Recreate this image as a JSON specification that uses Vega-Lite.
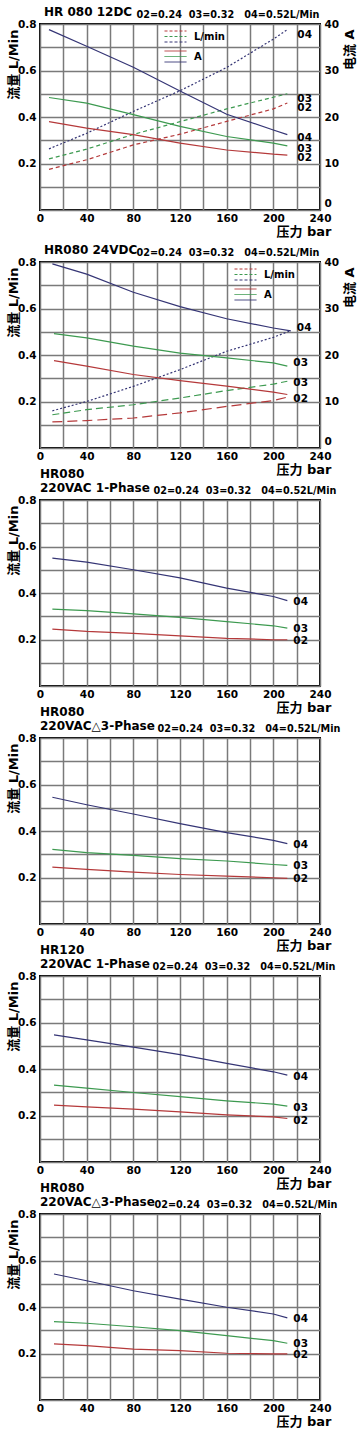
{
  "$schema": "https://vega.github.io/schema/vega-lite/v6.json",
  "background": "white",
  "padding": {"left": 5, "top": 5, "right": 0, "bottom": 5},
  "data": {"values": [
    {"panel":1,"kind":"L/min","series":"02","bar":7.7,"value":0.175},{"panel":1,"kind":"L/min","series":"02","bar":40,"value":0.216},{"panel":1,"kind":"L/min","series":"02","bar":80,"value":0.28},{"panel":1,"kind":"L/min","series":"02","bar":120,"value":0.326},{"panel":1,"kind":"L/min","series":"02","bar":160,"value":0.381},{"panel":1,"kind":"L/min","series":"02","bar":200,"value":0.435},{"panel":1,"kind":"L/min","series":"02","bar":212,"value":0.46},
    {"panel":1,"kind":"L/min","series":"03","bar":7.7,"value":0.22},{"panel":1,"kind":"L/min","series":"03","bar":40,"value":0.262},{"panel":1,"kind":"L/min","series":"03","bar":80,"value":0.325},{"panel":1,"kind":"L/min","series":"03","bar":120,"value":0.38},{"panel":1,"kind":"L/min","series":"03","bar":160,"value":0.435},{"panel":1,"kind":"L/min","series":"03","bar":200,"value":0.485},{"panel":1,"kind":"L/min","series":"03","bar":212,"value":0.5},
    {"panel":1,"kind":"L/min","series":"04","bar":7.7,"value":0.263},{"panel":1,"kind":"L/min","series":"04","bar":40,"value":0.33},{"panel":1,"kind":"L/min","series":"04","bar":80,"value":0.424},{"panel":1,"kind":"L/min","series":"04","bar":120,"value":0.513},{"panel":1,"kind":"L/min","series":"04","bar":160,"value":0.613},{"panel":1,"kind":"L/min","series":"04","bar":200,"value":0.735},{"panel":1,"kind":"L/min","series":"04","bar":212,"value":0.776},
    {"panel":1,"kind":"A","series":"02","bar":7.7,"value":19.0},{"panel":1,"kind":"A","series":"02","bar":40,"value":17.6},{"panel":1,"kind":"A","series":"02","bar":80,"value":16.2},{"panel":1,"kind":"A","series":"02","bar":120,"value":14.4},{"panel":1,"kind":"A","series":"02","bar":160,"value":12.9},{"panel":1,"kind":"A","series":"02","bar":200,"value":12.0},{"panel":1,"kind":"A","series":"02","bar":212,"value":11.8},
    {"panel":1,"kind":"A","series":"03","bar":7.7,"value":24.2},{"panel":1,"kind":"A","series":"03","bar":40,"value":23.0},{"panel":1,"kind":"A","series":"03","bar":80,"value":20.5},{"panel":1,"kind":"A","series":"03","bar":120,"value":18.0},{"panel":1,"kind":"A","series":"03","bar":160,"value":15.8},{"panel":1,"kind":"A","series":"03","bar":200,"value":14.4},{"panel":1,"kind":"A","series":"03","bar":212,"value":13.8},
    {"panel":1,"kind":"A","series":"04","bar":7.7,"value":38.8},{"panel":1,"kind":"A","series":"04","bar":40,"value":35.2},{"panel":1,"kind":"A","series":"04","bar":80,"value":30.7},{"panel":1,"kind":"A","series":"04","bar":120,"value":25.6},{"panel":1,"kind":"A","series":"04","bar":160,"value":20.6},{"panel":1,"kind":"A","series":"04","bar":200,"value":17.2},{"panel":1,"kind":"A","series":"04","bar":212,"value":16.2},
    {"panel":2,"kind":"L/min","series":"02","bar":10.6,"value":0.112},{"panel":2,"kind":"L/min","series":"02","bar":40,"value":0.118},{"panel":2,"kind":"L/min","series":"02","bar":80,"value":0.129},{"panel":2,"kind":"L/min","series":"02","bar":120,"value":0.151},{"panel":2,"kind":"L/min","series":"02","bar":160,"value":0.179},{"panel":2,"kind":"L/min","series":"02","bar":200,"value":0.204},{"panel":2,"kind":"L/min","series":"02","bar":212,"value":0.219},
    {"panel":2,"kind":"L/min","series":"03","bar":10.6,"value":0.143},{"panel":2,"kind":"L/min","series":"03","bar":40,"value":0.165},{"panel":2,"kind":"L/min","series":"03","bar":80,"value":0.186},{"panel":2,"kind":"L/min","series":"03","bar":120,"value":0.215},{"panel":2,"kind":"L/min","series":"03","bar":160,"value":0.247},{"panel":2,"kind":"L/min","series":"03","bar":200,"value":0.275},{"panel":2,"kind":"L/min","series":"03","bar":212,"value":0.287},
    {"panel":2,"kind":"L/min","series":"04","bar":10.6,"value":0.16},{"panel":2,"kind":"L/min","series":"04","bar":40,"value":0.2},{"panel":2,"kind":"L/min","series":"04","bar":80,"value":0.265},{"panel":2,"kind":"L/min","series":"04","bar":120,"value":0.337},{"panel":2,"kind":"L/min","series":"04","bar":160,"value":0.416},{"panel":2,"kind":"L/min","series":"04","bar":200,"value":0.476},{"panel":2,"kind":"L/min","series":"04","bar":215,"value":0.505},
    {"panel":2,"kind":"A","series":"02","bar":12,"value":18.8},{"panel":2,"kind":"A","series":"02","bar":40,"value":17.6},{"panel":2,"kind":"A","series":"02","bar":80,"value":15.8},{"panel":2,"kind":"A","series":"02","bar":120,"value":14.5},{"panel":2,"kind":"A","series":"02","bar":160,"value":13.3},{"panel":2,"kind":"A","series":"02","bar":200,"value":12.0},{"panel":2,"kind":"A","series":"02","bar":212,"value":11.5},
    {"panel":2,"kind":"A","series":"03","bar":12,"value":24.6},{"panel":2,"kind":"A","series":"03","bar":40,"value":23.7},{"panel":2,"kind":"A","series":"03","bar":80,"value":21.9},{"panel":2,"kind":"A","series":"03","bar":120,"value":20.4},{"panel":2,"kind":"A","series":"03","bar":160,"value":19.4},{"panel":2,"kind":"A","series":"03","bar":200,"value":18.3},{"panel":2,"kind":"A","series":"03","bar":212,"value":17.6},
    {"panel":2,"kind":"A","series":"04","bar":10.6,"value":39.6},{"panel":2,"kind":"A","series":"04","bar":40,"value":37.4},{"panel":2,"kind":"A","series":"04","bar":80,"value":33.5},{"panel":2,"kind":"A","series":"04","bar":120,"value":30.4},{"panel":2,"kind":"A","series":"04","bar":160,"value":27.8},{"panel":2,"kind":"A","series":"04","bar":200,"value":25.8},{"panel":2,"kind":"A","series":"04","bar":215,"value":25.2},
    {"panel":3,"kind":"L/min","series":"04","bar":10.6,"value":0.55},{"panel":3,"kind":"L/min","series":"04","bar":40,"value":0.533},{"panel":3,"kind":"L/min","series":"04","bar":80,"value":0.5},{"panel":3,"kind":"L/min","series":"04","bar":120,"value":0.465},{"panel":3,"kind":"L/min","series":"04","bar":160,"value":0.421},{"panel":3,"kind":"L/min","series":"04","bar":200,"value":0.385},{"panel":3,"kind":"L/min","series":"04","bar":212,"value":0.367},
    {"panel":3,"kind":"L/min","series":"03","bar":10.6,"value":0.331},{"panel":3,"kind":"L/min","series":"03","bar":40,"value":0.324},{"panel":3,"kind":"L/min","series":"03","bar":80,"value":0.31},{"panel":3,"kind":"L/min","series":"03","bar":120,"value":0.295},{"panel":3,"kind":"L/min","series":"03","bar":160,"value":0.277},{"panel":3,"kind":"L/min","series":"03","bar":200,"value":0.259},{"panel":3,"kind":"L/min","series":"03","bar":212,"value":0.249},
    {"panel":3,"kind":"L/min","series":"02","bar":10.6,"value":0.245},{"panel":3,"kind":"L/min","series":"02","bar":40,"value":0.235},{"panel":3,"kind":"L/min","series":"02","bar":80,"value":0.226},{"panel":3,"kind":"L/min","series":"02","bar":120,"value":0.216},{"panel":3,"kind":"L/min","series":"02","bar":160,"value":0.205},{"panel":3,"kind":"L/min","series":"02","bar":200,"value":0.199},{"panel":3,"kind":"L/min","series":"02","bar":212,"value":0.199},
    {"panel":4,"kind":"L/min","series":"04","bar":10.6,"value":0.545},{"panel":4,"kind":"L/min","series":"04","bar":40,"value":0.513},{"panel":4,"kind":"L/min","series":"04","bar":80,"value":0.473},{"panel":4,"kind":"L/min","series":"04","bar":120,"value":0.432},{"panel":4,"kind":"L/min","series":"04","bar":160,"value":0.393},{"panel":4,"kind":"L/min","series":"04","bar":200,"value":0.36},{"panel":4,"kind":"L/min","series":"04","bar":212,"value":0.346},
    {"panel":4,"kind":"L/min","series":"03","bar":10.6,"value":0.321},{"panel":4,"kind":"L/min","series":"03","bar":40,"value":0.307},{"panel":4,"kind":"L/min","series":"03","bar":80,"value":0.295},{"panel":4,"kind":"L/min","series":"03","bar":120,"value":0.281},{"panel":4,"kind":"L/min","series":"03","bar":160,"value":0.271},{"panel":4,"kind":"L/min","series":"03","bar":200,"value":0.256},{"panel":4,"kind":"L/min","series":"03","bar":212,"value":0.252},
    {"panel":4,"kind":"L/min","series":"02","bar":10.6,"value":0.245},{"panel":4,"kind":"L/min","series":"02","bar":40,"value":0.235},{"panel":4,"kind":"L/min","series":"02","bar":80,"value":0.223},{"panel":4,"kind":"L/min","series":"02","bar":120,"value":0.213},{"panel":4,"kind":"L/min","series":"02","bar":160,"value":0.206},{"panel":4,"kind":"L/min","series":"02","bar":200,"value":0.199},{"panel":4,"kind":"L/min","series":"02","bar":212,"value":0.196},
    {"panel":5,"kind":"L/min","series":"04","bar":12,"value":0.547},{"panel":5,"kind":"L/min","series":"04","bar":40,"value":0.525},{"panel":5,"kind":"L/min","series":"04","bar":80,"value":0.494},{"panel":5,"kind":"L/min","series":"04","bar":120,"value":0.462},{"panel":5,"kind":"L/min","series":"04","bar":160,"value":0.424},{"panel":5,"kind":"L/min","series":"04","bar":200,"value":0.388},{"panel":5,"kind":"L/min","series":"04","bar":212,"value":0.374},
    {"panel":5,"kind":"L/min","series":"03","bar":12,"value":0.331},{"panel":5,"kind":"L/min","series":"03","bar":40,"value":0.318},{"panel":5,"kind":"L/min","series":"03","bar":80,"value":0.299},{"panel":5,"kind":"L/min","series":"03","bar":120,"value":0.281},{"panel":5,"kind":"L/min","series":"03","bar":160,"value":0.263},{"panel":5,"kind":"L/min","series":"03","bar":200,"value":0.249},{"panel":5,"kind":"L/min","series":"03","bar":212,"value":0.24},
    {"panel":5,"kind":"L/min","series":"02","bar":12,"value":0.245},{"panel":5,"kind":"L/min","series":"02","bar":40,"value":0.237},{"panel":5,"kind":"L/min","series":"02","bar":80,"value":0.227},{"panel":5,"kind":"L/min","series":"02","bar":120,"value":0.216},{"panel":5,"kind":"L/min","series":"02","bar":160,"value":0.203},{"panel":5,"kind":"L/min","series":"02","bar":200,"value":0.194},{"panel":5,"kind":"L/min","series":"02","bar":212,"value":0.187},
    {"panel":6,"kind":"L/min","series":"04","bar":12,"value":0.542},{"panel":6,"kind":"L/min","series":"04","bar":40,"value":0.513},{"panel":6,"kind":"L/min","series":"04","bar":80,"value":0.47},{"panel":6,"kind":"L/min","series":"04","bar":120,"value":0.434},{"panel":6,"kind":"L/min","series":"04","bar":160,"value":0.399},{"panel":6,"kind":"L/min","series":"04","bar":200,"value":0.37},{"panel":6,"kind":"L/min","series":"04","bar":212,"value":0.353},
    {"panel":6,"kind":"L/min","series":"03","bar":12,"value":0.337},{"panel":6,"kind":"L/min","series":"03","bar":40,"value":0.33},{"panel":6,"kind":"L/min","series":"03","bar":80,"value":0.315},{"panel":6,"kind":"L/min","series":"03","bar":120,"value":0.298},{"panel":6,"kind":"L/min","series":"03","bar":160,"value":0.277},{"panel":6,"kind":"L/min","series":"03","bar":200,"value":0.255},{"panel":6,"kind":"L/min","series":"03","bar":212,"value":0.244},
    {"panel":6,"kind":"L/min","series":"02","bar":12,"value":0.241},{"panel":6,"kind":"L/min","series":"02","bar":40,"value":0.234},{"panel":6,"kind":"L/min","series":"02","bar":80,"value":0.219},{"panel":6,"kind":"L/min","series":"02","bar":120,"value":0.212},{"panel":6,"kind":"L/min","series":"02","bar":160,"value":0.201},{"panel":6,"kind":"L/min","series":"02","bar":200,"value":0.198},{"panel":6,"kind":"L/min","series":"02","bar":212,"value":0.198}
  ]},
  "spacing": 52,
  "bounds": "flush",
  "resolve": {"scale": {"strokeDash": "independent", "shape": "independent"}, "legend": {"shape": "independent", "strokeDash": "independent"}},
  "vconcat": [
    {
      "width": 280, "height": 186,
      "title": {"text": "HR 080 12DC", "dx": 4},
      "transform": [{"filter": "datum.panel === 1"}],
      "layer": [
        {
          "transform": [{"filter": "datum.kind === 'L/min'"}],
          "mark": {"type": "line", "strokeWidth": 1.2},
          "encoding": {
            "x": {"field": "bar", "type": "quantitative", "scale": {"domain": [0, 240], "nice": false},
              "axis": {"orient": "bottom", "values": [0,20,40,60,80,100,120,140,160,180,200,220,240], "grid": true, "labelExpr": "datum.value % 40 === 0 ? datum.label : ''", "labelPadding": 3, "labelFlush": false, "labelOverlap": false, "title": "压力 bar", "titleX": 291, "titleY": 21, "titleAlign": "right", "titleBaseline": "middle"}},
            "y": {"field": "value", "type": "quantitative", "scale": {"domain": [0, 0.8], "nice": false, "zero": false},
              "axis": {"orient": "left", "values": [0,0.1,0.2,0.3,0.4,0.5,0.6,0.7,0.8], "grid": true, "labelExpr": "datum.value > 0.05 && round(datum.value*10) % 2 === 0 ? format(datum.value, '.1f') : ''", "labelPadding": 4, "labelFlush": false, "labelOverlap": false, "title": "流量 L/Min", "titleAngle": -90, "titleX": -27, "titleY": 5, "titleAlign": "right", "titleBaseline": "middle"}},
            "color": {"field": "series", "type": "nominal", "scale": {"domain": ["02","03","04"], "range": ["#b5393a","#3d9a50","#353575"]}, "legend": null},
            "strokeDash": {"field": "series", "type": "nominal", "scale": {"domain": ["02","03","04"], "range": [[4,3],[4,3],[2,2]]}, "legend": null}
          }
        },
        {
          "transform": [{"filter": "datum.kind === 'A'"}],
          "mark": {"type": "line", "strokeWidth": 1.2},
          "encoding": {
            "x": {"field": "bar", "type": "quantitative", "scale": {"domain": [0, 240], "nice": false}, "axis": null},
            "y": {"field": "value", "type": "quantitative", "scale": {"domain": [0, 40], "nice": false, "zero": false},
              "axis": {"orient": "right", "values": [0,10,20,30,40], "grid": false, "labelPadding": 4, "labelFlush": false, "labelOverlap": false, "labelBaseline": {"condition": {"test": "datum.value === 0", "value": "bottom"}, "value": "middle"}, "labelOffset": {"condition": {"test": "datum.value === 0", "value": -2}, "value": 0}, "title": "电流 A", "titleAngle": -90, "titleX": 29, "titleY": 5, "titleAlign": "right", "titleBaseline": "middle"}},
            "color": {"field": "series", "type": "nominal", "legend": null}
          }
        },
        {
          "transform": [{"filter": "datum.kind === 'L/min'"}, {"joinaggregate": [{"op": "max", "field": "bar", "as": "maxbar"}], "groupby": ["series"]}, {"filter": "datum.bar === datum.maxbar"}],
          "mark": {"type": "text", "align": "left", "baseline": "middle", "dx": 10, "dy": 5, "fontSize": 10.5, "fontWeight": "bold", "font": "DejaVu Sans", "color": "#000"},
          "encoding": {
            "x": {"field": "bar", "type": "quantitative", "scale": {"domain": [0, 240], "nice": false},
              "axis": {"orient": "top", "labels": false, "ticks": false, "domain": false, "grid": false, "title": "02=0.24\u00a0\u00a003=0.32\u00a0\u00a0\u00a004=0.52L/Min", "titleFontSize": 9.7, "titleX": 96, "titleY": -10, "titleAlign": "left", "titleBaseline": "middle"}},
            "y": {"field": "value", "type": "quantitative", "scale": {"domain": [0, 0.8], "nice": false, "zero": false}, "axis": null},
            "text": {"field": "series"}
          }
        },
        {
          "transform": [{"filter": "datum.kind === 'A'"}, {"joinaggregate": [{"op": "max", "field": "bar", "as": "maxbar"}], "groupby": ["series"]}, {"filter": "datum.bar === datum.maxbar"}],
          "mark": {"type": "text", "align": "left", "baseline": "middle", "dx": 10, "dy": 3, "fontSize": 10.5, "fontWeight": "bold", "font": "DejaVu Sans", "color": "#000"},
          "encoding": {
            "x": {"field": "bar", "type": "quantitative", "scale": {"domain": [0, 240], "nice": false}, "axis": null},
            "y": {"field": "value", "type": "quantitative", "scale": {"domain": [0, 40], "nice": false, "zero": false}, "axis": null},
            "text": {"field": "series"}
          }
        },
        {
          "mark": {"type": "point", "shape": "M-1,-0.5H1M-1,0H1M-1,0.5H1", "opacity": 0, "filled": false, "strokeWidth": 1,
            "stroke": {"gradient": "linear", "x1": 0, "y1": 0, "x2": 0, "y2": 1, "stops": [{"offset": 0, "color": "#b5393a"}, {"offset": 0.3, "color": "#b5393a"}, {"offset": 0.3, "color": "#3d9a50"}, {"offset": 0.7, "color": "#3d9a50"}, {"offset": 0.7, "color": "#353575"}, {"offset": 1, "color": "#353575"}]}},
          "encoding": {
            "strokeDash": {"field": "kind", "type": "nominal",
              "scale": {"domain": ["L/min", "A"], "range": [[3,2],[1,0]]},
              "legend": {"orient": "none", "legendX": 124, "legendY": 1, "title": null, "symbolType": "M-1,-0.5H1M-1,0H1M-1,0.5H1", "symbolSize": 484, "symbolOpacity": 1, "labelFontSize": 10, "labelOffset": 7, "rowPadding": 1, "padding": 0, "symbolStrokeWidth": 1}}
          }
        }
      ],
      "resolve": {"scale": {"y": "independent", "strokeDash": "independent"}, "axis": {"x": "independent"}}
    },
    {
      "width": 280, "height": 186,
      "title": {"text": "HR080 24VDC", "dx": 4},
      "transform": [{"filter": "datum.panel === 2"}],
      "layer": [
        {
          "transform": [{"filter": "datum.kind === 'L/min'"}],
          "mark": {"type": "line", "strokeWidth": 1.2},
          "encoding": {
            "x": {"field": "bar", "type": "quantitative", "scale": {"domain": [0, 240], "nice": false},
              "axis": {"orient": "bottom", "values": [0,20,40,60,80,100,120,140,160,180,200,220,240], "grid": true, "labelExpr": "datum.value % 40 === 0 ? datum.label : ''", "labelPadding": 3, "labelFlush": false, "labelOverlap": false, "title": "压力 bar", "titleX": 291, "titleY": 21, "titleAlign": "right", "titleBaseline": "middle"}},
            "y": {"field": "value", "type": "quantitative", "scale": {"domain": [0, 0.8], "nice": false, "zero": false},
              "axis": {"orient": "left", "values": [0,0.1,0.2,0.3,0.4,0.5,0.6,0.7,0.8], "grid": true, "labelExpr": "datum.value > 0.05 && round(datum.value*10) % 2 === 0 ? format(datum.value, '.1f') : ''", "labelPadding": 4, "labelFlush": false, "labelOverlap": false, "title": "流量 L/Min", "titleAngle": -90, "titleX": -27, "titleY": 5, "titleAlign": "right", "titleBaseline": "middle"}},
            "color": {"field": "series", "type": "nominal", "scale": {"domain": ["02","03","04"], "range": ["#b5393a","#3d9a50","#353575"]}, "legend": null},
            "strokeDash": {"field": "series", "type": "nominal", "scale": {"domain": ["02","03","04"], "range": [[10,5],[7,4],[2,2]]}, "legend": null}
          }
        },
        {
          "transform": [{"filter": "datum.kind === 'A'"}],
          "mark": {"type": "line", "strokeWidth": 1.2},
          "encoding": {
            "x": {"field": "bar", "type": "quantitative", "scale": {"domain": [0, 240], "nice": false}, "axis": null},
            "y": {"field": "value", "type": "quantitative", "scale": {"domain": [0, 40], "nice": false, "zero": false},
              "axis": {"orient": "right", "values": [0,10,20,30,40], "grid": false, "labelPadding": 4, "labelFlush": false, "labelOverlap": false, "labelBaseline": {"condition": {"test": "datum.value === 0", "value": "bottom"}, "value": "middle"}, "labelOffset": {"condition": {"test": "datum.value === 0", "value": -2}, "value": 0}, "title": "电流 A", "titleAngle": -90, "titleX": 29, "titleY": 5, "titleAlign": "right", "titleBaseline": "middle"}},
            "color": {"field": "series", "type": "nominal", "legend": null}
          }
        },
        {
          "transform": [{"filter": "datum.kind === 'L/min' && datum.series !== '04'"}, {"joinaggregate": [{"op": "max", "field": "bar", "as": "maxbar"}], "groupby": ["series"]}, {"filter": "datum.bar === datum.maxbar"}],
          "mark": {"type": "text", "align": "left", "baseline": "middle", "dx": 6, "dy": 2, "fontSize": 10.5, "fontWeight": "bold", "font": "DejaVu Sans", "color": "#000"},
          "encoding": {
            "x": {"field": "bar", "type": "quantitative", "scale": {"domain": [0, 240], "nice": false},
              "axis": {"orient": "top", "labels": false, "ticks": false, "domain": false, "grid": false, "title": "02=0.24\u00a0\u00a003=0.32\u00a0\u00a0\u00a004=0.52L/Min", "titleFontSize": 9.7, "titleX": 96, "titleY": -10, "titleAlign": "left", "titleBaseline": "middle"}},
            "y": {"field": "value", "type": "quantitative", "scale": {"domain": [0, 0.8], "nice": false, "zero": false}, "axis": null},
            "text": {"field": "series"}
          }
        },
        {
          "transform": [{"filter": "datum.kind === 'A' && datum.series !== '02'"}, {"joinaggregate": [{"op": "max", "field": "bar", "as": "maxbar"}], "groupby": ["series"]}, {"filter": "datum.bar === datum.maxbar"}],
          "mark": {"type": "text", "align": "left", "baseline": "middle", "dx": 6, "dy": -3, "fontSize": 10.5, "fontWeight": "bold", "font": "DejaVu Sans", "color": "#000"},
          "encoding": {
            "x": {"field": "bar", "type": "quantitative", "scale": {"domain": [0, 240], "nice": false}, "axis": null},
            "y": {"field": "value", "type": "quantitative", "scale": {"domain": [0, 40], "nice": false, "zero": false}, "axis": null},
            "text": {"field": "series"}
          }
        },
        {
          "mark": {"type": "point", "shape": "M-1,-0.5H1M-1,0H1M-1,0.5H1", "opacity": 0, "filled": false, "strokeWidth": 1,
            "stroke": {"gradient": "linear", "x1": 0, "y1": 0, "x2": 0, "y2": 1, "stops": [{"offset": 0, "color": "#b5393a"}, {"offset": 0.3, "color": "#b5393a"}, {"offset": 0.3, "color": "#3d9a50"}, {"offset": 0.7, "color": "#3d9a50"}, {"offset": 0.7, "color": "#353575"}, {"offset": 1, "color": "#353575"}]}},
          "encoding": {
            "strokeDash": {"field": "kind", "type": "nominal",
              "scale": {"domain": ["L/min", "A"], "range": [[3,2],[1,0]]},
              "legend": {"orient": "none", "legendX": 194, "legendY": 1, "title": null, "symbolType": "M-1,-0.5H1M-1,0H1M-1,0.5H1", "symbolSize": 484, "symbolOpacity": 1, "labelFontSize": 10, "labelOffset": 7, "rowPadding": 1, "padding": 0, "symbolStrokeWidth": 1}}
          }
        }
      ],
      "resolve": {"scale": {"y": "independent", "strokeDash": "independent"}, "axis": {"x": "independent"}}
    },
    {
      "width": 280, "height": 186,
      "title": {"text": ["HR080", "220VAC 1-Phase"]},
      "transform": [{"filter": "datum.panel === 3"}],
      "layer": [
        {
          "mark": {"type": "line", "strokeWidth": 1.2},
          "encoding": {
            "x": {"field": "bar", "type": "quantitative", "scale": {"domain": [0, 240], "nice": false},
              "axis": {"orient": "bottom", "values": [0,20,40,60,80,100,120,140,160,180,200,220,240], "grid": true, "labelExpr": "datum.value % 40 === 0 ? datum.label : ''", "labelPadding": 3, "labelFlush": false, "labelOverlap": false, "title": "压力 bar", "titleX": 291, "titleY": 21, "titleAlign": "right", "titleBaseline": "middle"}},
            "y": {"field": "value", "type": "quantitative", "scale": {"domain": [0, 0.8], "nice": false, "zero": false},
              "axis": {"orient": "left", "values": [0,0.1,0.2,0.3,0.4,0.5,0.6,0.7,0.8], "grid": true, "labelExpr": "datum.value > 0.05 && round(datum.value*10) % 2 === 0 ? format(datum.value, '.1f') : ''", "labelPadding": 4, "labelFlush": false, "labelOverlap": false, "title": "流量 L/Min", "titleAngle": -90, "titleX": -27, "titleY": 5, "titleAlign": "right", "titleBaseline": "middle"}},
            "color": {"field": "series", "type": "nominal", "scale": {"domain": ["02","03","04"], "range": ["#b5393a","#3d9a50","#353575"]}, "legend": null}
          }
        },
        {
          "transform": [{"joinaggregate": [{"op": "max", "field": "bar", "as": "maxbar"}], "groupby": ["series"]}, {"filter": "datum.bar === datum.maxbar"}],
          "mark": {"type": "text", "align": "left", "baseline": "middle", "dx": 6, "dy": 1, "fontSize": 10.5, "fontWeight": "bold", "font": "DejaVu Sans", "color": "#000"},
          "encoding": {
            "x": {"field": "bar", "type": "quantitative", "scale": {"domain": [0, 240], "nice": false},
              "axis": {"orient": "top", "labels": false, "ticks": false, "domain": false, "grid": false, "title": "02=0.24\u00a0\u00a003=0.32\u00a0\u00a0\u00a004=0.52L/Min", "titleFontSize": 9.7, "titleX": 113, "titleY": -10, "titleAlign": "left", "titleBaseline": "middle"}},
            "y": {"field": "value", "type": "quantitative", "axis": null},
            "text": {"field": "series"}
          }
        }
      ],
      "resolve": {"axis": {"x": "independent", "y": "independent"}}
    },
    {
      "width": 280, "height": 186,
      "title": {"text": ["HR080", "220VAC△3-Phase"]},
      "transform": [{"filter": "datum.panel === 4"}],
      "layer": [
        {
          "mark": {"type": "line", "strokeWidth": 1.2},
          "encoding": {
            "x": {"field": "bar", "type": "quantitative", "scale": {"domain": [0, 240], "nice": false},
              "axis": {"orient": "bottom", "values": [0,20,40,60,80,100,120,140,160,180,200,220,240], "grid": true, "labelExpr": "datum.value % 40 === 0 ? datum.label : ''", "labelPadding": 3, "labelFlush": false, "labelOverlap": false, "title": "压力 bar", "titleX": 291, "titleY": 21, "titleAlign": "right", "titleBaseline": "middle"}},
            "y": {"field": "value", "type": "quantitative", "scale": {"domain": [0, 0.8], "nice": false, "zero": false},
              "axis": {"orient": "left", "values": [0,0.1,0.2,0.3,0.4,0.5,0.6,0.7,0.8], "grid": true, "labelExpr": "datum.value > 0.05 && round(datum.value*10) % 2 === 0 ? format(datum.value, '.1f') : ''", "labelPadding": 4, "labelFlush": false, "labelOverlap": false, "title": "流量 L/Min", "titleAngle": -90, "titleX": -27, "titleY": 5, "titleAlign": "right", "titleBaseline": "middle"}},
            "color": {"field": "series", "type": "nominal", "scale": {"domain": ["02","03","04"], "range": ["#b5393a","#3d9a50","#353575"]}, "legend": null}
          }
        },
        {
          "transform": [{"joinaggregate": [{"op": "max", "field": "bar", "as": "maxbar"}], "groupby": ["series"]}, {"filter": "datum.bar === datum.maxbar"}],
          "mark": {"type": "text", "align": "left", "baseline": "middle", "dx": 6, "dy": 1, "fontSize": 10.5, "fontWeight": "bold", "font": "DejaVu Sans", "color": "#000"},
          "encoding": {
            "x": {"field": "bar", "type": "quantitative", "scale": {"domain": [0, 240], "nice": false},
              "axis": {"orient": "top", "labels": false, "ticks": false, "domain": false, "grid": false, "title": "02=0.24\u00a0\u00a003=0.32\u00a0\u00a0\u00a004=0.52L/Min", "titleFontSize": 9.7, "titleX": 117, "titleY": -10, "titleAlign": "left", "titleBaseline": "middle"}},
            "y": {"field": "value", "type": "quantitative", "axis": null},
            "text": {"field": "series"}
          }
        }
      ],
      "resolve": {"axis": {"x": "independent", "y": "independent"}}
    },
    {
      "width": 280, "height": 186,
      "title": {"text": ["HR120", "220VAC 1-Phase"]},
      "transform": [{"filter": "datum.panel === 5"}],
      "layer": [
        {
          "mark": {"type": "line", "strokeWidth": 1.2},
          "encoding": {
            "x": {"field": "bar", "type": "quantitative", "scale": {"domain": [0, 240], "nice": false},
              "axis": {"orient": "bottom", "values": [0,20,40,60,80,100,120,140,160,180,200,220,240], "grid": true, "labelExpr": "datum.value % 40 === 0 ? datum.label : ''", "labelPadding": 3, "labelFlush": false, "labelOverlap": false, "title": "压力 bar", "titleX": 291, "titleY": 21, "titleAlign": "right", "titleBaseline": "middle"}},
            "y": {"field": "value", "type": "quantitative", "scale": {"domain": [0, 0.8], "nice": false, "zero": false},
              "axis": {"orient": "left", "values": [0,0.1,0.2,0.3,0.4,0.5,0.6,0.7,0.8], "grid": true, "labelExpr": "datum.value > 0.05 && round(datum.value*10) % 2 === 0 ? format(datum.value, '.1f') : ''", "labelPadding": 4, "labelFlush": false, "labelOverlap": false, "title": "流量 L/Min", "titleAngle": -90, "titleX": -27, "titleY": 5, "titleAlign": "right", "titleBaseline": "middle"}},
            "color": {"field": "series", "type": "nominal", "scale": {"domain": ["02","03","04"], "range": ["#b5393a","#3d9a50","#353575"]}, "legend": null}
          }
        },
        {
          "transform": [{"joinaggregate": [{"op": "max", "field": "bar", "as": "maxbar"}], "groupby": ["series"]}, {"filter": "datum.bar === datum.maxbar"}],
          "mark": {"type": "text", "align": "left", "baseline": "middle", "dx": 6, "dy": 2, "fontSize": 10.5, "fontWeight": "bold", "font": "DejaVu Sans", "color": "#000"},
          "encoding": {
            "x": {"field": "bar", "type": "quantitative", "scale": {"domain": [0, 240], "nice": false},
              "axis": {"orient": "top", "labels": false, "ticks": false, "domain": false, "grid": false, "title": "02=0.24\u00a0\u00a003=0.32\u00a0\u00a0\u00a004=0.52L/Min", "titleFontSize": 9.7, "titleX": 112, "titleY": -10, "titleAlign": "left", "titleBaseline": "middle"}},
            "y": {"field": "value", "type": "quantitative", "axis": null},
            "text": {"field": "series"}
          }
        }
      ],
      "resolve": {"axis": {"x": "independent", "y": "independent"}}
    },
    {
      "width": 280, "height": 186,
      "title": {"text": ["HR080", "220VAC△3-Phase"]},
      "transform": [{"filter": "datum.panel === 6"}],
      "layer": [
        {
          "mark": {"type": "line", "strokeWidth": 1.2},
          "encoding": {
            "x": {"field": "bar", "type": "quantitative", "scale": {"domain": [0, 240], "nice": false},
              "axis": {"orient": "bottom", "values": [0,20,40,60,80,100,120,140,160,180,200,220,240], "grid": true, "labelExpr": "datum.value % 40 === 0 ? datum.label : ''", "labelPadding": 3, "labelFlush": false, "labelOverlap": false, "title": "压力 bar", "titleX": 291, "titleY": 21, "titleAlign": "right", "titleBaseline": "middle"}},
            "y": {"field": "value", "type": "quantitative", "scale": {"domain": [0, 0.8], "nice": false, "zero": false},
              "axis": {"orient": "left", "values": [0,0.1,0.2,0.3,0.4,0.5,0.6,0.7,0.8], "grid": true, "labelExpr": "datum.value > 0.05 && round(datum.value*10) % 2 === 0 ? format(datum.value, '.1f') : ''", "labelPadding": 4, "labelFlush": false, "labelOverlap": false, "title": "流量 L/Min", "titleAngle": -90, "titleX": -27, "titleY": 5, "titleAlign": "right", "titleBaseline": "middle"}},
            "color": {"field": "series", "type": "nominal", "scale": {"domain": ["02","03","04"], "range": ["#b5393a","#3d9a50","#353575"]}, "legend": null}
          }
        },
        {
          "transform": [{"joinaggregate": [{"op": "max", "field": "bar", "as": "maxbar"}], "groupby": ["series"]}, {"filter": "datum.bar === datum.maxbar"}],
          "mark": {"type": "text", "align": "left", "baseline": "middle", "dx": 6, "dy": 1, "fontSize": 10.5, "fontWeight": "bold", "font": "DejaVu Sans", "color": "#000"},
          "encoding": {
            "x": {"field": "bar", "type": "quantitative", "scale": {"domain": [0, 240], "nice": false},
              "axis": {"orient": "top", "labels": false, "ticks": false, "domain": false, "grid": false, "title": "02=0.24\u00a0\u00a003=0.32\u00a0\u00a0\u00a004=0.52L/Min", "titleFontSize": 9.7, "titleX": 114, "titleY": -10, "titleAlign": "left", "titleBaseline": "middle"}},
            "y": {"field": "value", "type": "quantitative", "axis": null},
            "text": {"field": "series"}
          }
        }
      ],
      "resolve": {"axis": {"x": "independent", "y": "independent"}}
    }
  ],
  "config": {
    "view": {"stroke": "#000", "strokeWidth": 2},
    "axis": {"labelFont": "DejaVu Sans", "labelFontWeight": "bold", "labelColor": "#000", "labelFontSize": 10.5, "titleFont": "DejaVu Sans, Noto Sans CJK SC", "titleFontWeight": "bold", "titleColor": "#000", "titleFontSize": 13, "ticks": false, "domain": false, "gridColor": "#7a7a7a", "gridWidth": 1.5, "gridOpacity": 1},
    "legend": {"labelFont": "DejaVu Sans", "labelFontWeight": "bold", "labelColor": "#000"},
    "title": {"font": "DejaVu Sans", "fontSize": 12, "fontWeight": "bold", "color": "#000", "anchor": "start", "frame": "group", "offset": -10, "lineHeight": 14, "baseline": "bottom"}
  }
}
